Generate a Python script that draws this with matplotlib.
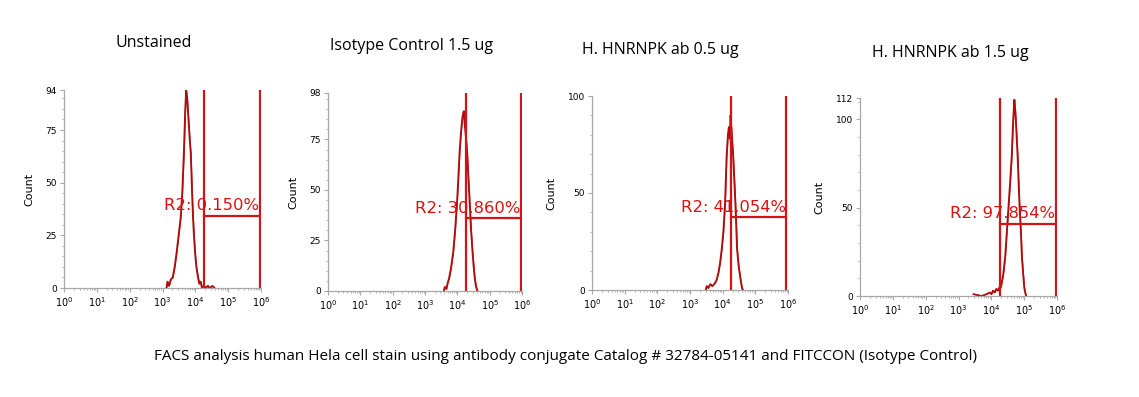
import numpy as np
import matplotlib
matplotlib.use("Agg")
import matplotlib.pyplot as plt
from matplotlib.ticker import FixedLocator, LogLocator, FuncFormatter, NullFormatter

# --- data ----------------------------------------------------------------
titles = ["Unstained", "Isotype Control 1.5 ug", "H. HNRNPK ab 0.5 ug", "H. HNRNPK ab 1.5 ug"]
caption = "FACS analysis human Hela cell stain using antibody conjugate Catalog # 32784-05141 and FITCCON (Isotype Control)"

# histogram traces: log10 of intensity and counts
p1_logx = [3.12, 3.15, 3.20, 3.25, 3.31, 3.37, 3.43, 3.49, 3.55, 3.60, 3.65, 3.69, 3.72, 3.75,
           3.79, 3.83, 3.86, 3.90, 3.93, 3.96, 3.99, 4.03, 4.08, 4.12, 4.16, 4.20, 4.26, 4.32,
           4.38, 4.44, 4.52, 4.58]
p1_count = [0, 3, 1, 4, 5, 10, 17, 25, 33, 45, 64, 84, 94, 90,
            80, 70, 64, 45, 33, 24, 17, 10, 5, 2, 3, 0, 1, 0,
            1, 0, 1, 0]

p2_logx = [3.58, 3.61, 3.66, 3.70, 3.74, 3.80, 3.87, 3.93, 3.99, 4.03, 4.07, 4.11, 4.15, 4.18,
           4.20, 4.22, 4.26, 4.30, 4.34, 4.38, 4.42, 4.47, 4.51, 4.54, 4.58, 4.62]
p2_count = [0, 2, 1, 4, 6, 11, 19, 30, 44, 56, 69, 78, 85, 88,
            89, 84, 77, 69, 56, 44, 31, 19, 11, 6, 2, 0]

p3_logx = [3.48, 3.51, 3.56, 3.62, 3.68, 3.74, 3.81, 3.87, 3.92, 3.97, 4.02, 4.07, 4.12, 4.16,
           4.19, 4.22, 4.24, 4.27, 4.30, 4.32, 4.36, 4.39, 4.44, 4.49, 4.55, 4.59, 4.62]
p3_count = [0, 2, 1, 3, 2, 3, 5, 9, 14, 21, 30, 44, 69, 80,
            84, 78, 90, 82, 74, 69, 55, 44, 21, 12, 5, 1, 0]

p4_logx = [3.46, 3.70, 3.85, 3.95, 4.00, 4.05, 4.10, 4.15, 4.20, 4.25, 4.29, 4.36, 4.42, 4.47,
           4.52, 4.57, 4.62, 4.66, 4.70, 4.73, 4.76, 4.80, 4.83, 4.86, 4.90, 4.93, 4.97, 5.00,
           5.03, 5.06]
p4_count = [1, 0, 1, 2, 1, 3, 2, 4, 3, 5, 5, 12, 22, 36,
            50, 64, 79, 98, 111, 104, 94, 79, 64, 50, 36, 22, 12, 5,
            2, 0]

ymax = [94, 98, 100, 112]
yticks = [[0, 25, 50, 75, 94], [0, 25, 50, 75, 98], [0, 50, 100], [0, 50, 100, 112]]
gate_left = [4.26, 4.26, 4.25, 4.26]     # log10
gate_right = [5.96, 5.98, 5.95, 5.97]
gate_level = [34.4, 35.9, 37.4, 41.0]
r2_labels = ["R2: 0.150%", "R2: 30.860%", "R2: 41.054%", "R2: 97.854%"]

traces = [(p1_logx, p1_count), (p2_logx, p2_count), (p3_logx, p3_count), (p4_logx, p4_count)]

# --- layout (pixel boxes from the reference) ---------------------------------
W, H = 1139, 397
boxes = [(64, 90, 261, 288), (328, 93, 522, 291), (592, 96, 788, 290), (860, 98, 1057, 296)]
title_pos = [(154, 43), (412, 46), (660, 50), (950, 53)]

plt.rcParams["font.family"] = ["DejaVu Sans"]
fig = plt.figure(figsize=(W / 100, H / 100), dpi=100)
fig.patch.set_facecolor("white")

trace_col = "#b00c0c"
gate_col = "#d41414"
axis_col = "#a8a8a8"


def dec_fmt(v, pos):
    e = int(round(np.log10(v)))
    return r"$10^{%d}$" % e


for i in range(4):
    x0, y0, x1, y1 = boxes[i]
    ax = fig.add_axes([x0 / W, 1 - y1 / H, (x1 - x0) / W, (y1 - y0) / H])
    lx, cnt = traces[i]
    xs = 10 ** np.array(lx)
    ax.plot(xs, cnt, color=trace_col, lw=1.3)
    ax.plot(xs * 1.03, cnt, color=trace_col, lw=0.8, alpha=0.85)

    gl, gr = 10 ** gate_left[i], 10 ** gate_right[i]
    ax.axvline(gl, color=gate_col, lw=1.6)
    ax.axvline(gr, color=gate_col, lw=1.6)
    ax.plot([gl, gr], [gate_level[i], gate_level[i]], color=gate_col, lw=1.6)
    ax.text(gr * 0.95, gate_level[i] + 0.012 * ymax[i], r2_labels[i], color="#dd1111",
            fontsize=11.8, ha="right", va="bottom")

    ax.set_xscale("log")
    ax.set_xlim(1, 1e6)
    ax.set_ylim(0, ymax[i])
    ax.xaxis.set_major_locator(LogLocator(base=10, numticks=10))
    ax.xaxis.set_minor_locator(LogLocator(base=10, subs=np.arange(2, 10), numticks=10))
    ax.xaxis.set_major_formatter(FuncFormatter(dec_fmt))
    ax.xaxis.set_minor_formatter(NullFormatter())
    ax.yaxis.set_major_locator(FixedLocator(yticks[i]))
    step = 5 if ymax[i] < 100 else 10
    ax.yaxis.set_minor_locator(FixedLocator(np.arange(step, ymax[i], step)))
    ax.set_ylabel("Count", fontsize=8, labelpad=8)

    for s in ["right", "top"]:
        ax.spines[s].set_visible(False)
    for s in ["left", "bottom"]:
        ax.spines[s].set_color(axis_col)
        ax.spines[s].set_linewidth(0.9)
    ax.tick_params(axis="both", which="major", length=3, color=axis_col, labelsize=6.5, pad=2)
    ax.tick_params(axis="both", which="minor", length=1.5, color=axis_col)
    ax.tick_params(axis="x", labelsize=7)

    tx, ty = title_pos[i]
    fig.text(tx / W, 1 - ty / H, titles[i], ha="center", va="center",
             fontsize=11.5, family="Open Sans")

fig.text(565 / W, 1 - 357 / H, caption, ha="center", va="center", fontsize=11, family="Open Sans")

fig.savefig("out.png", dpi=100, facecolor="white")
